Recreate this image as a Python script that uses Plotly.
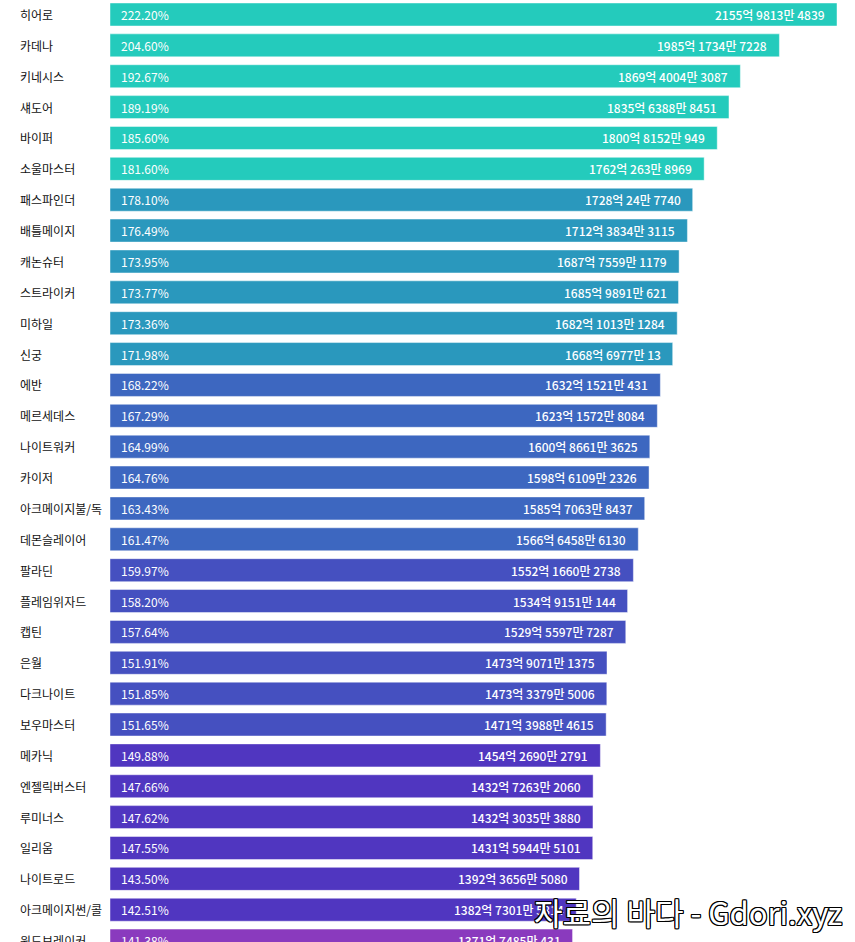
import plotly.graph_objects as go

# ---- data ----
classes = ["히어로", "카데나", "키네시스", "섀도어", "바이퍼", "소울마스터",
           "패스파인더", "배틀메이지", "캐논슈터", "스트라이커", "미하일", "신궁",
           "에반", "메르세데스", "나이트워커", "카이저", "아크메이지불/독", "데몬슬레이어",
           "팔라딘", "플레임위자드", "캡틴", "은월", "다크나이트", "보우마스터",
           "메카닉", "엔젤릭버스터", "루미너스", "일리움", "나이트로드", "아크메이지썬/콜",
           "윈드브레이커"]
percents = [222.20, 204.60, 192.67, 189.19, 185.60, 181.60,
            178.10, 176.49, 173.95, 173.77, 173.36, 171.98,
            168.22, 167.29, 164.99, 164.76, 163.43, 161.47,
            159.97, 158.20, 157.64, 151.91, 151.85, 151.65,
            149.88, 147.66, 147.62, 147.55, 143.50, 142.51,
            141.38]
damages = [215598134839, 198517347228, 186940043087, 183563888451, 180081520949, 176202638969,
           172800247740, 171238343115, 168775591179, 168598910621, 168210131284, 166869770013,
           163215210431, 162315728084, 160086613625, 159861092326, 158570638437, 156664586130,
           155216602738, 153491510144, 152955977287, 147390711375, 147333795006, 147139884615,
           145426902791, 143272632060, 143230353880, 143159445101, 139236565080, 138273015814,
           137174850431]
group_colors = ["#24CBBC", "#2A98BD", "#3D67C0", "#4550C0", "#5036C0", "#8A3ABE"]
watermark = "자료의 바다 - Gdori.xyz"


def kr_units(v):
    eok, rest = divmod(v, 10**8)
    man, one = divmod(rest, 10**4)
    parts = []
    if eok:
        parts.append(f"{eok}억")
    if man:
        parts.append(f"{man}만")
    if one:
        parts.append(f"{one}")
    return " ".join(parts)


FONT = "Noto Sans CJK KR"
W, H = 855, 942
L = 110
colors = [group_colors[i // 6] for i in range(len(classes))]

fig = go.Figure()
fig.add_trace(go.Bar(
    y=classes, x=damages, orientation="h",
    marker=dict(color=colors, line=dict(color="rgba(255,255,255,0.45)", width=1)),
    hoverinfo="skip",
))

ann = []
for name, p, d in zip(classes, percents, damages):
    ann.append(dict(xref="paper", yref="y", x=0, y=name, text=name, showarrow=False,
                    xanchor="left", xshift=-92, font=dict(family=FONT, size=12, color="#111")))
    ann.append(dict(xref="x", yref="y", x=0, y=name, text=f"{p:.2f}%", showarrow=False,
                    xanchor="left", xshift=9, font=dict(family=FONT, size=12, color="white")))
    ann.append(dict(xref="x", yref="y", x=d, y=name, text=kr_units(d), showarrow=False,
                    xanchor="right", xshift=-10, font=dict(family=FONT, size=12, color="white", weight=500)))

ann.append(dict(xref="paper", yref="paper", x=1, y=0, xanchor="right", yanchor="bottom",
                xshift=-11, yshift=6, text=watermark, showarrow=False,
                font=dict(family=FONT, size=31, color="white",
                          shadow="1px 1px 0 #000, -1px -1px 0 #000, 1px -1px 0 #000, -1px 1px 0 #000, 0 1px 0 #000, 0 -1px 0 #000, 1px 0 0 #000, -1px 0 0 #000")))

pitch = 30.87
first_center = 14.5
y_top = -first_center / pitch
y_bottom = (H - first_center) / pitch
xmax = max(damages) * (W - L) / 727.0

fig.update_layout(
    width=W, height=H,
    margin=dict(l=L, r=0, t=0, b=0),
    paper_bgcolor="white", plot_bgcolor="white",
    bargap=0.255, showlegend=False,
    xaxis=dict(range=[0, xmax], visible=False, fixedrange=True),
    yaxis=dict(type="category", categoryorder="array", categoryarray=classes,
               range=[y_bottom, y_top], visible=False, fixedrange=True),
    annotations=ann,
)

fig.write_html("out.html", config={"displayModeBar": False},
               post_script="document.body.style.margin='0';document.body.style.overflow='hidden';")
